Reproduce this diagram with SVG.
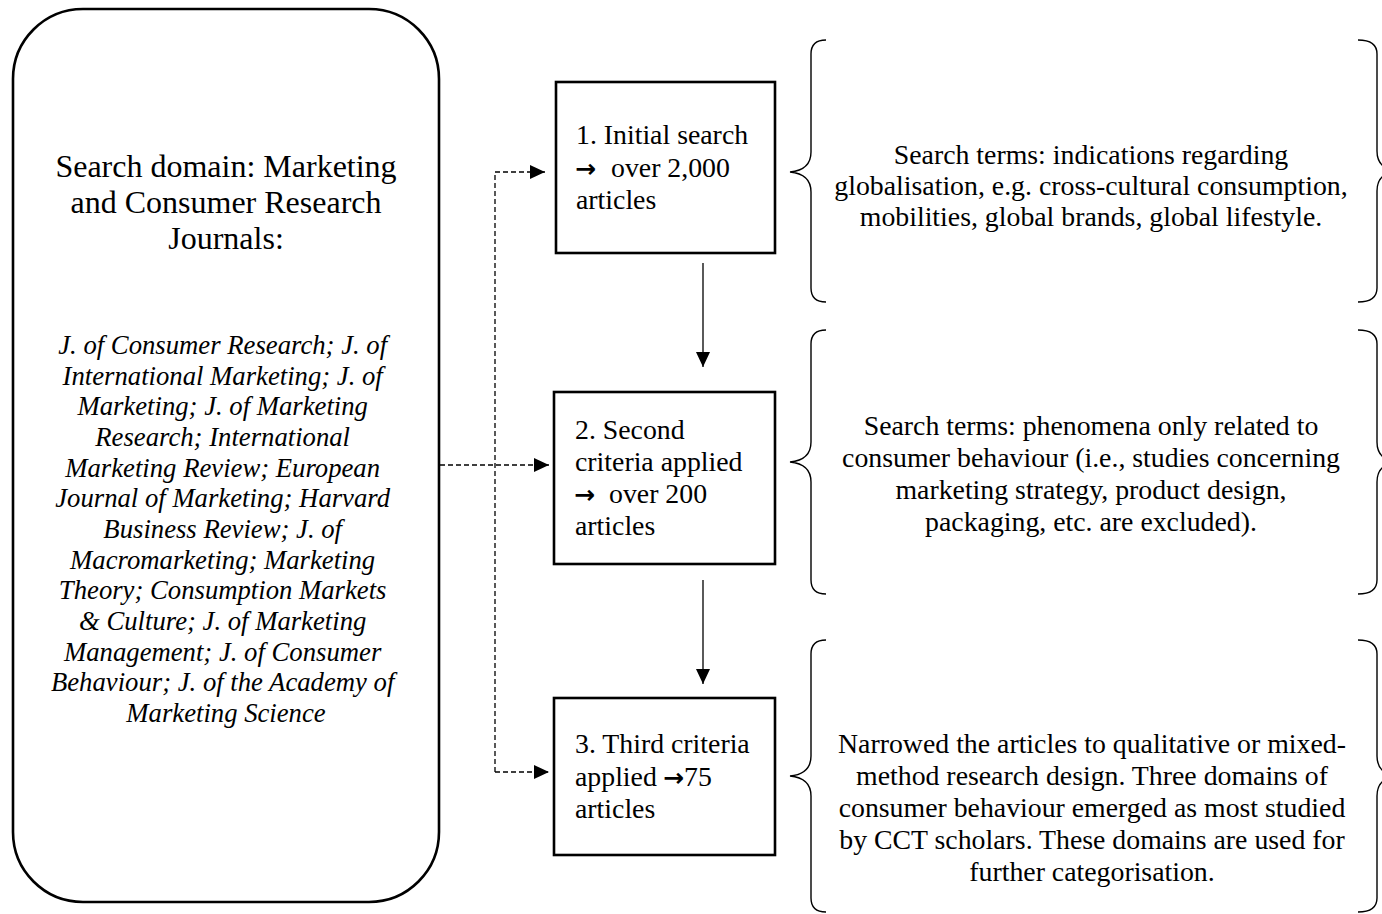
<svg xmlns="http://www.w3.org/2000/svg" width="1382" height="914" viewBox="0 0 1382 914">
<defs>
<style>
text{font-family:"Liberation Serif","Times New Roman",serif;fill:#000}
.head{font-size:32px;text-anchor:middle}
.jour{font-size:26.7px;font-style:italic;text-anchor:middle}
.box{font-size:27.8px}
.note{font-size:27.8px;text-anchor:middle}
.arr{font-family:"DejaVu Sans",sans-serif;font-size:25px;font-weight:bold}
.frame{fill:#fff;stroke:#000;stroke-width:2.6}
.brace{fill:none;stroke:#000;stroke-width:1.4}
.dash{fill:none;stroke:#000;stroke-width:1.3;stroke-dasharray:5 3}
.solid{fill:none;stroke:#000;stroke-width:1.3}
</style>
<marker id="ah" markerUnits="userSpaceOnUse" markerWidth="16" markerHeight="16" refX="15" refY="8" orient="auto">
<path d="M0,1 L15,8 L0,15 Z" fill="#000"/>
</marker>
</defs>
<rect width="1382" height="914" fill="#fff"/>

<g id="domain">
<rect class="frame" x="13" y="9" width="426" height="893" rx="70" ry="70"/>
<text class="head"><tspan x="226" y="177">Search domain: Marketing</tspan><tspan x="226" y="213">and Consumer Research</tspan><tspan x="226" y="249">Journals:</tspan></text>
<text class="jour">
<tspan x="226" y="354">J. of Consumer Research; J. of</tspan>
<tspan x="226" y="384.7">International Marketing; J. of</tspan>
<tspan x="226" y="415.3">Marketing; J. of Marketing</tspan>
<tspan x="226" y="446">Research; International</tspan>
<tspan x="226" y="476.7">Marketing Review; European</tspan>
<tspan x="226" y="507.3">Journal of Marketing; Harvard</tspan>
<tspan x="226" y="538">Business Review; J. of</tspan>
<tspan x="226" y="568.7">Macromarketing; Marketing</tspan>
<tspan x="226" y="599.3">Theory; Consumption Markets</tspan>
<tspan x="226" y="630">&amp; Culture; J. of Marketing</tspan>
<tspan x="226" y="660.7">Management; J. of Consumer</tspan>
<tspan x="226" y="691.3">Behaviour; J. of the Academy of</tspan>
<tspan x="226" y="722">Marketing Science</tspan>
</text>
</g>

<g id="step1">
<rect class="frame" x="556" y="82" width="219" height="171"/>
<text class="box"><tspan x="576" y="144">1. Initial search</tspan></text>
<text class="box"><tspan class="arr" x="575" y="177">→</tspan><tspan x="611" y="177">over 2,000</tspan></text>
<text class="box"><tspan x="576" y="209">articles</tspan></text>
</g>

<g id="step2">
<rect class="frame" x="554" y="392" width="221" height="172"/>
<text class="box"><tspan x="575" y="439">2. Second</tspan><tspan x="575" y="471">criteria applied</tspan></text>
<text class="box"><tspan class="arr" x="574" y="503">→</tspan><tspan x="609" y="503">over 200</tspan></text>
<text class="box"><tspan x="575" y="535">articles</tspan></text>
</g>

<g id="step3">
<rect class="frame" x="554" y="698" width="221" height="157"/>
<text class="box"><tspan x="575" y="753">3. Third criteria</tspan></text>
<text class="box"><tspan x="575" y="786">applied</tspan><tspan class="arr" x="663" y="786">→</tspan><tspan x="684" y="786">75</tspan></text>
<text class="box"><tspan x="575" y="818">articles</tspan></text>
</g>

<g id="note1">
<path class="brace" d="M826,40 Q811,40 811,54 L811,152 Q811,170 790,172 Q811,174 811,192 L811,288 Q811,302 826,302"/>
<path class="brace" d="M1358,40 Q1377,40 1377,54 L1377,151 Q1377,169 1397,171 Q1377,173 1377,191 L1377,288 Q1377,302 1358,302"/>
<text class="note"><tspan x="1091" y="164">Search terms: indications regarding</tspan><tspan x="1091" y="195">globalisation, e.g. cross-cultural consumption,</tspan><tspan x="1091" y="226">mobilities, global brands, global lifestyle.</tspan></text>
</g>

<g id="note2">
<path class="brace" d="M826,330 Q811,330 811,344 L811,442 Q811,460 790,462 Q811,464 811,482 L811,580 Q811,594 826,594"/>
<path class="brace" d="M1358,330 Q1377,330 1377,344 L1377,442 Q1377,460 1397,462 Q1377,464 1377,482 L1377,580 Q1377,594 1358,594"/>
<text class="note"><tspan x="1091" y="435">Search terms: phenomena only related to</tspan><tspan x="1091" y="467">consumer behaviour (i.e., studies concerning</tspan><tspan x="1091" y="499">marketing strategy, product design,</tspan><tspan x="1091" y="531">packaging, etc. are excluded).</tspan></text>
</g>

<g id="note3">
<path class="brace" d="M826,640 Q811,640 811,654 L811,756 Q811,774 790,776 Q811,778 811,796 L811,898 Q811,912 826,912"/>
<path class="brace" d="M1358,640 Q1377,640 1377,654 L1377,756 Q1377,774 1397,776 Q1377,778 1377,796 L1377,898 Q1377,912 1358,912"/>
<text class="note"><tspan x="1092" y="753">Narrowed the articles to qualitative or mixed-</tspan><tspan x="1092" y="785">method research design. Three domains of</tspan><tspan x="1092" y="817">consumer behaviour emerged as most studied</tspan><tspan x="1092" y="849">by CCT scholars. These domains are used for</tspan><tspan x="1092" y="881">further categorisation.</tspan></text>
</g>

<g id="connectors">
<path class="dash" d="M440,465 H549" marker-end="url(#ah)"/>
<path class="dash" d="M495,772 V172"/>
<path class="dash" d="M495,172 H545" marker-end="url(#ah)"/>
<path class="dash" d="M495,772 H549" marker-end="url(#ah)"/>
<path class="solid" d="M703,263 V367" marker-end="url(#ah)"/>
<path class="solid" d="M703,580 V684" marker-end="url(#ah)"/>
</g>
</svg>
